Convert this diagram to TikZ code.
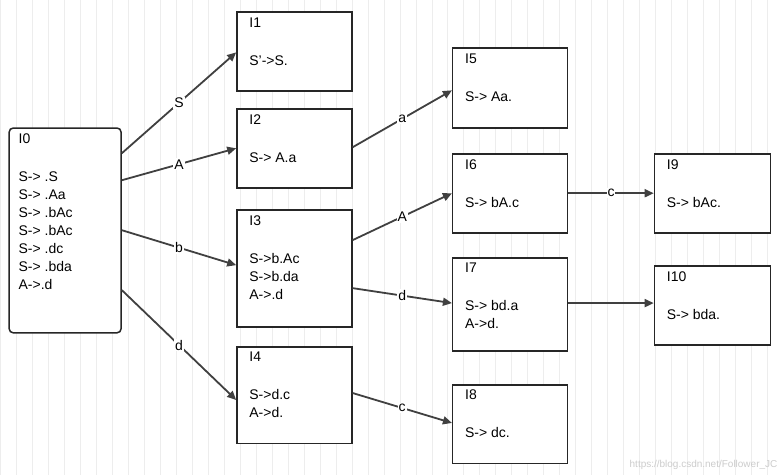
\documentclass[tikz,border=0pt]{standalone}
\usepackage{fontspec}
\setmainfont{Liberation Sans}
\usetikzlibrary{arrows.meta}
\begin{document}
\begin{tikzpicture}[x=1pt,y=-1pt,
  box/.style={draw=black!85,line width=1.5pt,fill=white,anchor=north west,inner sep=0pt},
  txt/.style={anchor=north west,align=left,font=\fontsize{14}{18}\selectfont,inner sep=0pt},
  arr/.style={draw=black!75,line width=1.8pt,-{Triangle[length=9pt,width=8pt]}},
  lab/.style={fill=white,inner sep=1pt,font=\fontsize{14}{16}\selectfont}]
\fill[white] (0,0) rectangle (782,475);
\draw[black!7,line width=0.9pt,step=16] (0,0) grid (782,475);
\useasboundingbox (0,0) rectangle (782,475);
\newcommand{\bx}[6]{\node[box,minimum width=#4-#2,minimum height=#5-#3] (#1) at (#2,#3) {};
  \node[txt] at (#2+13,#3+6) {#6};}
\node[box,rounded corners=4pt,minimum width=112,minimum height=205] (I0) at (8,127) {};
\node[txt] at (18,133) {I0\\[20pt]S-> .S\\S-> .Aa\\S-> .bAc\\S-> .bAc\\S-> .dc\\S-> .bda\\A->.d};
\bx{I1}{236}{11}{351}{90}{I1\\[20pt]S'->S.}
\bx{I2}{236}{108}{351}{187}{I2\\[20pt]S-> A.a}
\bx{I3}{236}{209}{351}{326}{I3\\[20pt]S->b.Ac\\S->b.da\\A->.d}
\bx{I4}{236}{346}{351}{443}{I4\\[20pt]S->d.c\\A->d.}
\bx{I5}{452}{47}{567}{127}{I5\\[20pt]S-> Aa.}
\bx{I6}{452}{153}{567}{232}{I6\\[20pt]S-> bA.c}
\bx{I7}{452}{257}{567}{350}{I7\\[20pt]S-> bd.a\\A->d.}
\bx{I8}{452}{384}{567}{463}{I8\\[20pt]S-> dc.}
\bx{I9}{654}{153}{770}{232}{I9\\[20pt]S-> bAc.}
\bx{I10}{654}{265}{770}{344}{I10\\[20pt]S-> bda.}
\draw[arr] (I0.east |- 0,153) -- node[lab]{S} (I1.west |- 0,52);
\draw[arr] (I0.east |- 0,180) -- node[lab]{A} (I2.west |- 0,148);
\draw[arr] (I0.east |- 0,230) -- node[lab]{b} (I3.west |- 0,265);
\draw[arr] (I0.east |- 0,290) -- node[lab]{d} (I4.west |- 0,400);
\draw[arr] (I2.east |- 0,147) -- node[lab]{a} (I5.west |- 0,90);
\draw[arr] (I3.east |- 0,240) -- node[lab]{A} (I6.west |- 0,193);
\draw[arr] (I3.east |- 0,288) -- node[lab]{d} (I7.west |- 0,303);
\draw[arr] (I4.east |- 0,393) -- node[lab]{c} (I8.west |- 0,423);
\draw[arr] (I6.east |- 0,193) -- node[lab]{c} (I9.west |- 0,193);
\draw[arr] (I7.east |- 0,303) -- (I10.west |- 0,303);
\node[anchor=south east,text=black!20,font=\fontsize{10}{12}\selectfont,inner sep=0pt] at (778,470) {https://blog.csdn.net/Follower\_JC};
\end{tikzpicture}
\end{document}
